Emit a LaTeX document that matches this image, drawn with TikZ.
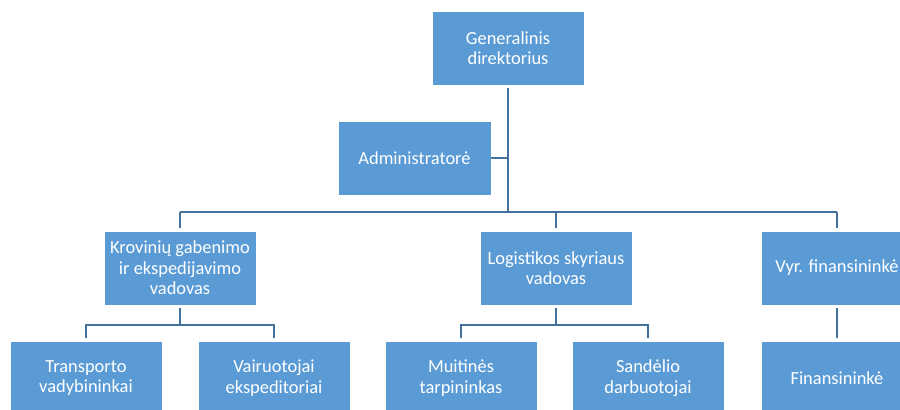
\documentclass[tikz,border=0pt]{standalone}
\usepackage{fontspec}
\setmainfont{Carlito}
\definecolor{boxblue}{HTML}{5B9BD5}
\definecolor{linkblue}{HTML}{41719C}
\begin{document}
\begin{tikzpicture}[x=1bp,y=-1bp,
  box/.style={fill=boxblue, draw=white, line width=0.6bp, minimum width=152bp, minimum height=74bp,
    inner sep=0pt, align=center, text=white, font=\fontsize{18.5}{20.5}\selectfont},
  link/.style={draw=linkblue, line width=2.6bp}]
\clip (0,0) rectangle (900,409);
\node[box] (gen) at (508,48) {Generalinis\\direktorius};
\node[box, minimum width=153bp] (adm) at (414.5,158) {Administratorė};
\node[box] (kro) at (180,268) {Krovinių gabenimo\\ir ekspedijavimo\\vadovas};
\node[box] (log) at (556,268) {Logistikos skyriaus\\vadovas};
\node[box] (vyr) at (837,268) {Vyr. finansininkė};
\node[box] (tra) at (86,378) {Transporto\\vadybininkai};
\node[box] (vai) at (274,378) {Vairuotojai\\ekspeditoriai};
\node[box] (mui) at (461,378) {Muitinės\\tarpininkas};
\node[box] (san) at (648,378) {Sandėlio\\darbuotojai};
\node[box] (fin) at (837,378) {Finansininkė};
\coordinate (j) at (508,212);
\coordinate (bl) at (180,212);
\coordinate (br) at (837,212);
\coordinate (kb) at (0,325);
\coordinate (lb) at (0,325);
\draw[link] ([yshift=-3bp]gen.south) -- (j);
\draw[link] (adm.east) -- (adm.east -| j);
\draw[link] (bl) -- (br);
\draw[link] (bl) -- ([yshift=3bp]kro.north);
\draw[link] (log.north |- j) -- ([yshift=3bp]log.north);
\draw[link] (br) -- ([yshift=3bp]vyr.north);
\draw[link] ([yshift=-3bp]kro.south) -- (kro.south |- kb);
\draw[link] ([yshift=3bp]tra.north) -- (tra.north |- kb) -- (vai.north |- kb) -- ([yshift=3bp]vai.north);
\draw[link] ([yshift=-3bp]log.south) -- (log.south |- lb);
\draw[link] ([yshift=3bp]mui.north) -- (mui.north |- lb) -- (san.north |- lb) -- ([yshift=3bp]san.north);
\draw[link] ([yshift=-3bp]vyr.south) -- ([yshift=3bp]fin.north);
\end{tikzpicture}
\end{document}
